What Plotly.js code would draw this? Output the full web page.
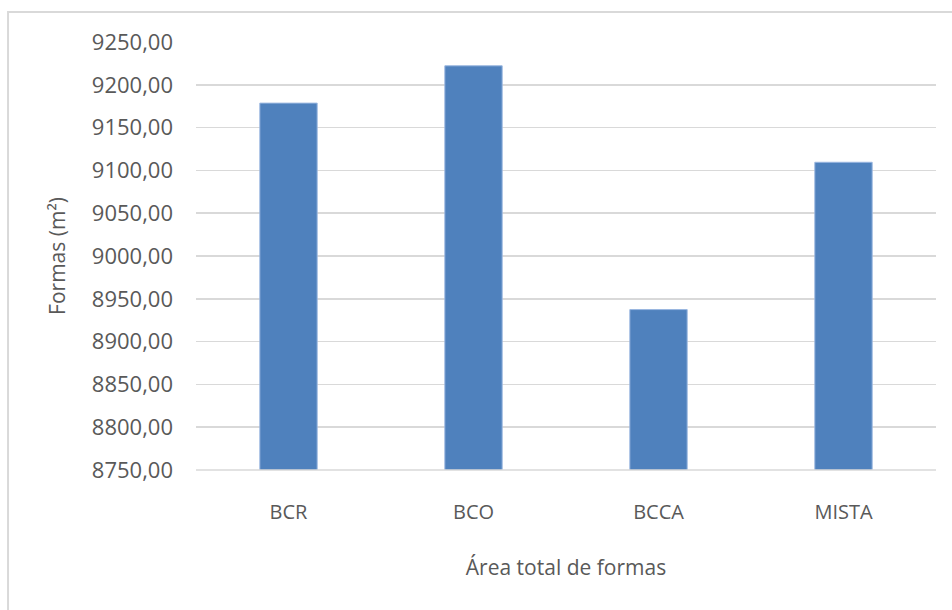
<!DOCTYPE html>
<html>
<head>
<meta charset="utf-8">
<script src="https://cdn.plot.ly/plotly-3.0.1.min.js"></script>
<style>html,body{margin:0;padding:0;background:#fff;}#chart{width:952px;height:610px;}</style>
</head>
<body>
<div id="chart"></div>
<script>
const categories = ["BCR", "BCO", "BCCA", "MISTA"];
const values = [9178.6, 9222.2, 8937.4, 9109.5];
const tickVals = [8750, 8800, 8850, 8900, 8950, 9000, 9050, 9100, 9150, 9200, 9250];
const xTitle = "Área total de formas";
const yTitle = "Formas (m²)";

const FONT = "'Open Sans', 'Noto Sans', sans-serif";
const TXT = "#595959";

const trace = {
  type: "bar",
  x: categories,
  y: values,
  marker: { color: "#4f81bd", line: { color: "#9ab7e0", width: 1 } },
  hoverinfo: "skip"
};

const layout = {
  width: 952, height: 610,
  margin: { l: 196, r: 16, t: 42, b: 140 },
  paper_bgcolor: "#ffffff",
  plot_bgcolor: "#ffffff",
  separators: ",.",
  showlegend: false,
  bargap: 0.69,
  font: { family: FONT, color: TXT, size: 21 },
  xaxis: {
    type: "category",
    showgrid: false,
    zeroline: false,
    showline: false,
    ticks: "",
    ticklabelstandoff: 28,
    tickfont: { family: FONT, size: 20, color: TXT },
    automargin: false,
    title: { text: xTitle, standoff: 36, font: { family: FONT, size: 21, color: TXT } }
  },
  yaxis: {
    range: [8750, 9250],
    tickvals: tickVals,
    tickformat: ".2f",
    showgrid: true,
    gridcolor: "#d9d9d9",
    gridwidth: 1.5,
    zeroline: false,
    showline: false,
    ticks: "",
    ticklabelstandoff: 22,
    tickfont: { family: FONT, size: 22, color: TXT },
    automargin: false,
    title: { text: yTitle, standoff: 20, font: { family: FONT, size: 21, color: TXT } }
  },
  shapes: [
    { type: "line", xref: "paper", yref: "paper", x0: 0, x1: 1, y0: 0, y1: 0,
      line: { color: "#d9d9d9", width: 1.5 } },
    { type: "rect", xref: "paper", yref: "paper",
      x0: -0.254, x1: 1.5, y0: -1, y1: 1.070,
      line: { color: "#d9d9d9", width: 2 }, fillcolor: "rgba(0,0,0,0)", layer: "below" }
  ]
};

Plotly.newPlot("chart", [trace], layout, { displayModeBar: false, staticPlot: true });
</script>
</body>
</html>
